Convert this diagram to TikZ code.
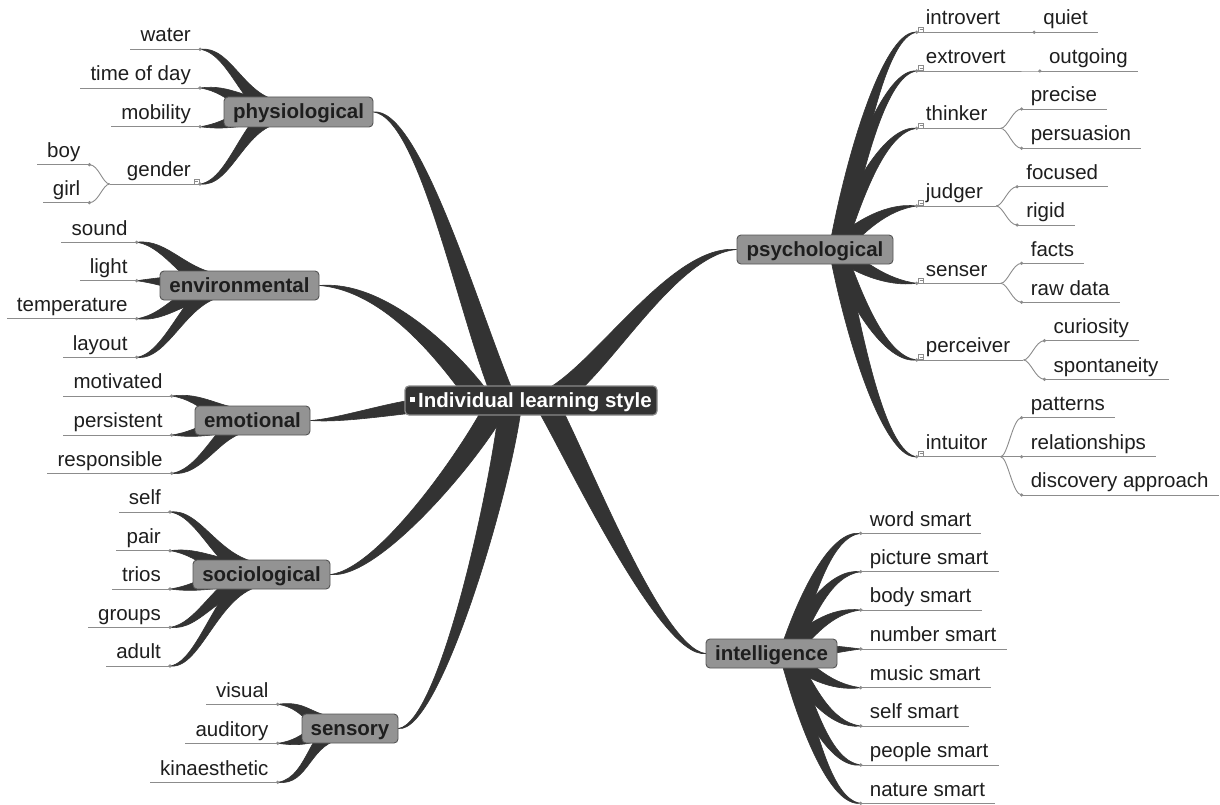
\documentclass[tikz,border=0pt]{standalone}
\usepackage{fontspec}
\setmainfont{Liberation Sans}
\usetikzlibrary{calc}
\definecolor{branchc}{HTML}{333333}
\definecolor{boxfill}{HTML}{939393}
\definecolor{boxline}{HTML}{555555}
\definecolor{rootline}{HTML}{8A8A8A}
\definecolor{leafl}{HTML}{8C8C8C}
\definecolor{txt}{HTML}{1E1E1E}
\pgfdeclarelayer{bg}
\pgfsetlayers{bg,main}
\tikzset{
  branch/.style={fill=branchc, draw=branchc, line width=0.6pt},
  catbox/.style={draw=boxline, fill=boxfill, line width=0.9pt, rounded corners=4pt,
    font=\fontsize{20.5}{24}\selectfont\bfseries, text=txt, inner sep=0pt,
    minimum height=29pt, text height=17pt, text depth=4pt},
  rootbox/.style={draw=rootline, fill=branchc, line width=1.2pt, rounded corners=4pt,
    font=\fontsize{20.5}{24}\selectfont\bfseries, text=white, inner sep=0pt,
    minimum height=29pt, minimum width=252pt, text height=17pt, text depth=4pt},
  leaftext/.style={font=\fontsize{20.5}{24}\selectfont, text=txt, inner sep=0pt},
  leafline/.style={draw=leafl, line width=0.9pt},
  dotc/.style={fill=leafl},
  iconst/.style={draw=leafl, line width=0.5pt},
}
% tapered connector: A, C1, C2, E, half width at A/C1, half width at C2
\newcommand{\taper}[6]{%
  \filldraw[branch] ($(#1)!#5!90:(#2)$) .. controls ($(#2)!#5!-90:(#1)$) and ($(#3)!#6!90:(#4)$) .. (#4)
    .. controls ($(#3)!#6!-90:(#4)$) and ($(#2)!#5!90:(#1)$) .. ($(#1)!#5!-90:(#2)$) -- cycle;}
\newcommand{\twigL}[3]{%
  \coordinate (#3-c) at ($(#3-d)+(32,0)$);
  \taper{#1}{#2}{#3-c}{#3-d}{11pt}{4.5pt}}
% right twig leaving the box steeply towards its leaf
\newcommand{\twigRv}[2]{%
  \coordinate (#2-m) at ($(#1)!0.5!(#1|-#2-d)$);
  \coordinate (#2-k) at ($(#2-m)+(20,0)$);
  \coordinate (#2-c) at ($(#2-d)+(-30,0)$);
  \taper{#1}{#2-k}{#2-c}{#2-d}{8pt}{4pt}}
\newcommand{\leafL}[3]{%
  \coordinate (#1-d) at (#2);
  \node[leaftext, anchor=base east] (#1) at ($(#1-d)+(-9,-7.3)$) {#3};
  \draw[leafline] (#1-d) -- ($(#1.west |- #1-d)+(-10,0)$);
  \fill[dotc] (#1-d) circle[radius=1.8pt];}
\newcommand{\leafR}[3]{%
  \coordinate (#1-d) at (#2);
  \node[leaftext, anchor=base west] (#1) at ($(#1-d)+(9,-7.3)$) {#3};
  \draw[leafline] (#1-d) -- ($(#1.east |- #1-d)+(10,0)$);
  \fill[dotc] (#1-d) circle[radius=1.8pt];}
\newcommand{\midR}[3]{%
  \coordinate (#1-d) at (#2);
  \node[leaftext, anchor=base west] (#1) at ($(#1-d)+(9,-7.3)$) {#3};
  \coordinate (#1-j) at ($(#1.east |- #1-d)+(13,0)$);
  \draw[leafline] (#1-d) -- (#1-j);
  \fill[dotc] (#1-d) circle[radius=1.8pt];
  \draw[iconst] ($(#1-d)+(2,-5.5)$) rectangle ($(#1-d)+(7,-0.5)$);
  \draw[iconst] ($(#1-d)+(3,-3)$) -- ($(#1-d)+(6,-3)$);}
\newcommand{\midL}[3]{%
  \coordinate (#1-d) at (#2);
  \node[leaftext, anchor=base east] (#1) at ($(#1-d)+(-9,-7.3)$) {#3};
  \coordinate (#1-j) at ($(#1.west |- #1-d)+(-17,0)$);
  \draw[leafline] (#1-d) -- (#1-j);
  \fill[dotc] (#1-d) circle[radius=1.8pt];
  \draw[iconst] ($(#1-d)+(-6,-5)$) rectangle ($(#1-d)+(-1,0)$);
  \draw[iconst] ($(#1-d)+(-5,-2.5)$) -- ($(#1-d)+(-2,-2.5)$);}
\newcommand{\subR}[4]{%
  \leafR{#2}{$(#1-j)+(21,#3)$}{#4}
  \draw[leafline] (#1-j) .. controls +(7,0) and +(-9,0) .. (#2-d);}
\newcommand{\subL}[4]{%
  \leafL{#2}{$(#1-j)+(-20.3,#3)$}{#4}
  \draw[leafline] (#1-j) .. controls +(-7,0) and +(9,0) .. (#2-d);}

\begin{document}
\begin{tikzpicture}[x=1pt,y=-1pt]
\useasboundingbox (0,0) rectangle (1220,805);
\begin{pgfonlayer}{bg}
  \fill[white] (0,0) rectangle (1220,805);
\end{pgfonlayer}

% main nodes
\node[rootbox] (root) at (531,400.5) {\raisebox{5pt}{\rule{5pt}{5pt}}\hspace{3pt}Individual learning style};
\node[catbox, minimum width=149pt, minimum height=30pt] (phys) at (298.5,112) {physiological};
\node[catbox, minimum width=159pt] (env) at (239.5,285.5) {environmental};
\node[catbox, minimum width=115pt] (emo) at (252.5,420.5) {emotional};
\node[catbox, minimum width=137pt] (soc) at (261.5,574.5) {sociological};
\node[catbox, minimum width=96pt] (sens) at (350,728.5) {sensory};
\node[catbox, minimum width=156pt] (psych) at (815,249.5) {psychological};
\node[catbox, minimum width=131pt] (intel) at (771.5,653.5) {intelligence};

% leaves: physiological
\leafL{lwater}{200,49.3}{water}
\leafL{ltime}{200,88}{time of day}
\leafL{lmob}{200,126.7}{mobility}
\midL{lgender}{200,184}{gender}
\subL{lgender}{lboy}{-19.3}{boy}
\subL{lgender}{lgirl}{18.7}{girl}
% environmental
\leafL{lsound}{136.7,242.3}{sound}
\leafL{llight}{136.7,280.7}{light}
\leafL{ltemp}{136.7,318.7}{temperature}
\leafL{llayout}{136.7,357.3}{layout}
% emotional
\leafL{lmot}{171.7,396}{motivated}
\leafL{lpers}{171.7,435}{persistent}
\leafL{lresp}{171.7,473.3}{responsible}
% sociological
\leafL{lself}{170,512}{self}
\leafL{lpair}{170,550.7}{pair}
\leafL{ltrios}{170,589}{trios}
\leafL{lgroups}{170,627.3}{groups}
\leafL{ladult}{170,666}{adult}
% sensory
\leafL{lvis}{277.7,704.3}{visual}
\leafL{laud}{277.7,743.3}{auditory}
\leafL{lkin}{277.7,782.3}{kinaesthetic}
% psychological
\midR{rintro}{916.7,32.3}{introvert}
\subR{rintro}{rquiet}{0}{quiet}
\midR{rextro}{916.7,71}{extrovert}
\subR{rextro}{rout}{0}{outgoing}
\midR{rthink}{916.7,128.3}{thinker}
\subR{rthink}{rprec}{-19.3}{precise}
\subR{rthink}{rpersu}{20}{persuasion}
\midR{rjudg}{916.7,206}{judger}
\subR{rjudg}{rfoc}{-19.3}{focused}
\subR{rjudg}{rrig}{19}{rigid}
\midR{rsens}{916.7,283.3}{senser}
\subR{rsens}{rfacts}{-20}{facts}
\subR{rsens}{rraw}{19}{raw data}
\midR{rperc}{916.7,360}{perceiver}
\subR{rperc}{rcur}{-19.3}{curiosity}
\subR{rperc}{rspon}{19.3}{spontaneity}
\midR{rintu}{916.7,456.7}{intuitor}
\subR{rintu}{rpat}{-39}{patterns}
\subR{rintu}{rrel}{0}{relationships}
\subR{rintu}{rdisc}{38.3}{discovery approach}
% intelligence
\leafR{iword}{860.7,533.3}{word smart}
\leafR{ipic}{860.7,571.7}{picture smart}
\leafR{ibody}{860.7,610}{body smart}
\leafR{inum}{860.7,649}{number smart}
\leafR{imus}{860.7,687.7}{music smart}
\leafR{iself}{860.7,726}{self smart}
\leafR{ipeop}{860.7,765}{people smart}
\leafR{inat}{860.7,803.3}{nature smart}

\begin{pgfonlayer}{bg}
  % main branches
  \coordinate (mA1) at ($(root.center)+(-26,0)$); \coordinate (mC1) at (470,320); \coordinate (mD1) at ($(phys.east)+(47,0)$);
  \taper{mA1}{mC1}{mD1}{phys.east}{11pt}{6pt}
  \coordinate (mA2) at ($(root.center)+(-50,0)$); \coordinate (mC2) at (455,365); \coordinate (mD2) at ($(env.east)+(70,0)$);
  \taper{mA2}{mC2}{mD2}{env.east}{11pt}{6pt}
  \coordinate (mA3) at ($(root.center)+(18,0)$); \coordinate (mC3) at (600,375); \coordinate (mD3) at ($(psych.west)+(-65,0)$);
  \taper{mA3}{mC3}{mD3}{psych.west}{11pt}{6pt}
  \coordinate (mA4) at ($(root.center)+(-95,3)$); \coordinate (mC4) at (390,408); \coordinate (mD4) at ($(emo.east)+(32,0)$);
  \taper{mA4}{mC4}{mD4}{emo.east}{7pt}{2.5pt}
  \coordinate (mA5) at ($(root.center)+(-32,0)$); \coordinate (mC5) at (478,445); \coordinate (mD5) at ($(soc.east)+(50,0)$);
  \taper{mA5}{mC5}{mD5}{soc.east}{11pt}{6pt}
  \coordinate (mA6) at ($(root.center)+(-20,0)$); \coordinate (mC6) at (503,480); \coordinate (mD6) at ($(sens.east)+(42,0)$);
  \taper{mA6}{mC6}{mD6}{sens.east}{11pt}{6pt}
  \coordinate (mA7) at ($(root.center)+(14,0)$); \coordinate (mC7) at (572,445); \coordinate (mD7) at ($(intel.west)+(-46,0)$);
  \taper{mA7}{mC7}{mD7}{intel.west}{11pt}{6pt}

  % twigs
  \coordinate (pA) at ($(phys.center)+(-13.5,0)$); \coordinate (pC) at ($(pA)+(-40,0)$);
  \twigL{pA}{pC}{lwater} \twigL{pA}{pC}{ltime} \twigL{pA}{pC}{lmob} \twigL{pA}{pC}{lgender}
  \coordinate (eA) at ($(env.center)+(-11.5,0)$); \coordinate (eC) at ($(eA)+(-40,0)$);
  \twigL{eA}{eC}{lsound} \twigL{eA}{eC}{llight} \twigL{eA}{eC}{ltemp} \twigL{eA}{eC}{llayout}
  \coordinate (oA) at ($(emo.center)+(0,0)$); \coordinate (oC) at ($(oA)+(-32,0)$);
  \twigL{oA}{oC}{lmot} \twigL{oA}{oC}{lpers} \twigL{oA}{oC}{lresp}
  \coordinate (sA) at ($(soc.center)+(6.5,0)$); \coordinate (sC) at ($(sA)+(-48,0)$);
  \twigL{sA}{sC}{lself} \twigL{sA}{sC}{lpair} \twigL{sA}{sC}{ltrios} \twigL{sA}{sC}{lgroups} \twigL{sA}{sC}{ladult}
  \coordinate (vA) at ($(sens.center)+(-5,0)$); \coordinate (vC) at ($(vA)+(-35,0)$);
  \twigL{vA}{vC}{lvis} \twigL{vA}{vC}{laud} \twigL{vA}{vC}{lkin}
  \coordinate (yA) at ($(psych.center)+(22,0)$);
  \twigRv{yA}{rintro} \twigRv{yA}{rextro} \twigRv{yA}{rthink} \twigRv{yA}{rjudg}
  \twigRv{yA}{rsens} \twigRv{yA}{rperc} \twigRv{yA}{rintu}
  \coordinate (iA) at ($(intel.center)+(16,0)$);
  \twigRv{iA}{iword} \twigRv{iA}{ipic} \twigRv{iA}{ibody} \twigRv{iA}{inum}
  \twigRv{iA}{imus} \twigRv{iA}{iself} \twigRv{iA}{ipeop} \twigRv{iA}{inat}
\end{pgfonlayer}
\end{tikzpicture}
\end{document}
